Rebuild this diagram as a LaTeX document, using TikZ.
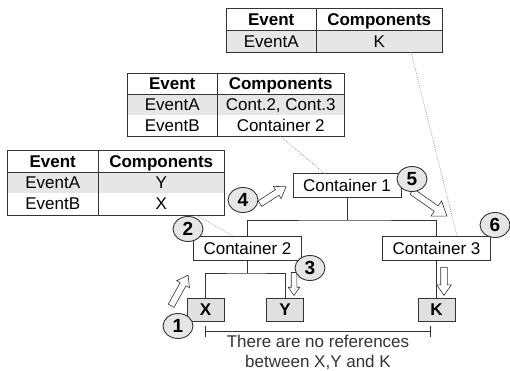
\documentclass[tikz,border=0pt]{standalone}
\usepackage{fontspec}
\setmainfont{Liberation Sans}
\usetikzlibrary{shapes.geometric,shapes.arrows}
\definecolor{linegray}{HTML}{333333}
\definecolor{rowgray}{HTML}{E6E6E6}
\definecolor{boxgray}{HTML}{E0E0E0}
\tikzset{%
    every container/.style={
            draw=linegray,
            fill=white,
            line width=0.8pt,
            minimum width=108,
            minimum height=24,
            inner sep=0
        },
    leaf/.style={
            draw=linegray,
            fill=boxgray,
            line width=0.8pt,
            minimum width=37,
            minimum height=23,
            inner sep=0,
            font=\fontsize{17}{20}\selectfont\bfseries
        },
    cell/.style={
            anchor=north west,
            inner sep=0,
            text depth=0
        },
    head/.style={
            font=\fontsize{17}{20}\selectfont\bfseries
        },
    tableline/.style={
            draw=linegray,
            line width=0.7pt
        },
    ref line/.style={
            draw=gray,
            line width=0.6pt,
            dash pattern=on 0.8pt off 1.2pt
        },
    tree/.style={
            draw=linegray,
            line width=0.8pt
        },
    num/.style={
            ellipse,
            draw=linegray,
            fill=rowgray,
            line width=0.9pt,
            minimum width=30,
            minimum height=25,
            inner sep=0,
            font=\fontsize{19}{19}\selectfont\bfseries
        },
    hollow/.style={
            single arrow,
            draw=linegray,
            fill=white,
            line width=0.6pt,
            inner sep=3,
            single arrow head extend=4,
            single arrow tip angle=70
        },
}

\begin{document}
\begin{tikzpicture}[x=1pt, y=-1pt, font=\fontsize{17}{20}\selectfont]

        \useasboundingbox (0,0) rectangle (510,371);

        % containers and components
        \node [every container] (cont-1) at (347,185.5) {Container 1};
        \node [every container] (cont-2) at (247.5,248) {Container 2};
        \node [every container] (cont-3) at (436.5,248) {Container 3};

        \node [leaf] (comp-x) at (205.5,309.5) {X};
        \node [leaf] (comp-y) at (285,309.5) {Y};
        \node [leaf] (comp-k) at (436.5,309.5) {K};

        % tables
        \node [cell, head, minimum width=90, minimum height=22] (top-e0) at (226,8) {Event};
        \node [cell, head, minimum width=126, minimum height=22] (top-c0) at (316,8) {Components};
        \foreach \e/\c [count=\r] in {EventA/K}
        {
        \node [cell, fill=rowgray, minimum width=90, minimum height=22] (top-e\r) at (226,8+\r*22) {\e};
        \node [cell, fill=rowgray, minimum width=126, minimum height=22] (top-c\r) at (316,8+\r*22) {\c};
        }
        \draw [tableline] (top-e0.north west) rectangle (top-c1.south east);
        \draw [tableline] (top-e0.north east) -- (top-e1.south east);
        \draw [tableline] (top-e0.south west) -- (top-c0.south east);

        \node [cell, head, minimum width=90, minimum height=21] (mid-e0) at (127,73) {Event};
        \node [cell, head, minimum width=127, minimum height=21] (mid-c0) at (217,73) {Components};
        \foreach \e/\c/\f [count=\r] in {EventA/{Cont.2, Cont.3}/rowgray, EventB/Container 2/white}
        {
        \node [cell, fill=\f, minimum width=90, minimum height=21] (mid-e\r) at (127,73+\r*21) {\e};
        \node [cell, fill=\f, minimum width=127, minimum height=21] (mid-c\r) at (217,73+\r*21) {\c};
        }
        \draw [tableline] (mid-e0.north west) rectangle (mid-c2.south east);
        \draw [tableline] (mid-e0.north east) -- (mid-e2.south east);
        \draw [tableline] (mid-e0.south west) -- (mid-c0.south east);

        \node [cell, head, minimum width=91, minimum height=22] (left-e0) at (7,150) {Event};
        \node [cell, head, minimum width=126, minimum height=22] (left-c0) at (98,150) {Components};
        \foreach \e/\c/\f [count=\r] in {EventA/Y/rowgray, EventB/X/white}
        {
        \node [cell, fill=\f, minimum width=91, minimum height=21.5] (left-e\r) at (7,150+\r*21.5) {\e};
        \node [cell, fill=\f, minimum width=126, minimum height=21.5] (left-c\r) at (98,150+\r*21.5) {\c};
        }
        \draw [tableline] (left-e0.north west) rectangle (left-c2.south east);
        \draw [tableline] (left-e0.north east) -- (left-e2.south east);
        \draw [tableline] (left-e0.south west) -- (left-c0.south east);

        % dotted references
        \coordinate (ref-top) at (411,52);
        \coordinate (ref-3) at (457,236);
        \coordinate (ref-mid) at (280,136);
        \coordinate (ref-1) at (325,174);
        \coordinate (ref-left) at (196,215);
        \coordinate (ref-2) at (233,236);
        \draw [ref line] (ref-top) -- (ref-3);
        \draw [ref line] (ref-mid) -- (ref-1);
        \draw [ref line] (ref-left) -- (ref-2);

        % tree
        \coordinate (fork-1) at (347,220);
        \coordinate (fork-2) at (247.5,273);
        \draw [tree] (cont-1.south) -- (fork-1);
        \draw [tree] (cont-2.north) |- (fork-1) -| (cont-3.north);
        \draw [tree] (cont-2.south) -- (fork-2);
        \draw [tree] (comp-x.north) |- (fork-2) -| (comp-y.north);
        \draw [tree] (cont-3.south) -- (comp-k.north);

        % no references
        \coordinate (span-a) at (205,331);
        \coordinate (span-b) at (430,331);
        \draw [tree, line width=0.6pt] (span-a) -- (span-b);
        \draw [tree, line width=0.6pt] ([yshift=5]span-a) -- ([yshift=-6]span-a);
        \draw [tree, line width=0.6pt] ([yshift=5]span-b) -- ([yshift=-6]span-b);
        \node [align=center, text=linegray] (note) at (318,352) {There are no references\\between X,Y and K};

        % hollow arrows
        \node [hollow, minimum height=35, rotate=61] (arrow-1) at (178.5,292.5) {};
        \node [hollow, minimum height=23, rotate=-90, inner sep=2.5, single arrow head extend=3] (arrow-3) at (294,282) {};
        \node [hollow, minimum height=31, rotate=33] (arrow-4) at (271,196.5) {};
        \node [hollow, minimum height=43, rotate=-35, single arrow head extend=6] (arrow-5) at (427.5,202.5) {};
        \node [hollow, minimum height=28, rotate=-90] (arrow-6) at (444,279) {};

        % steps
        \foreach \n/\px/\py in {1/178/326, 2/188/229, 3/310/268, 4/243/200, 5/412/179, 6/495/225}
        \node [num] (step-\n) at (\px,\py) {\n};

\end{tikzpicture}
\end{document}
